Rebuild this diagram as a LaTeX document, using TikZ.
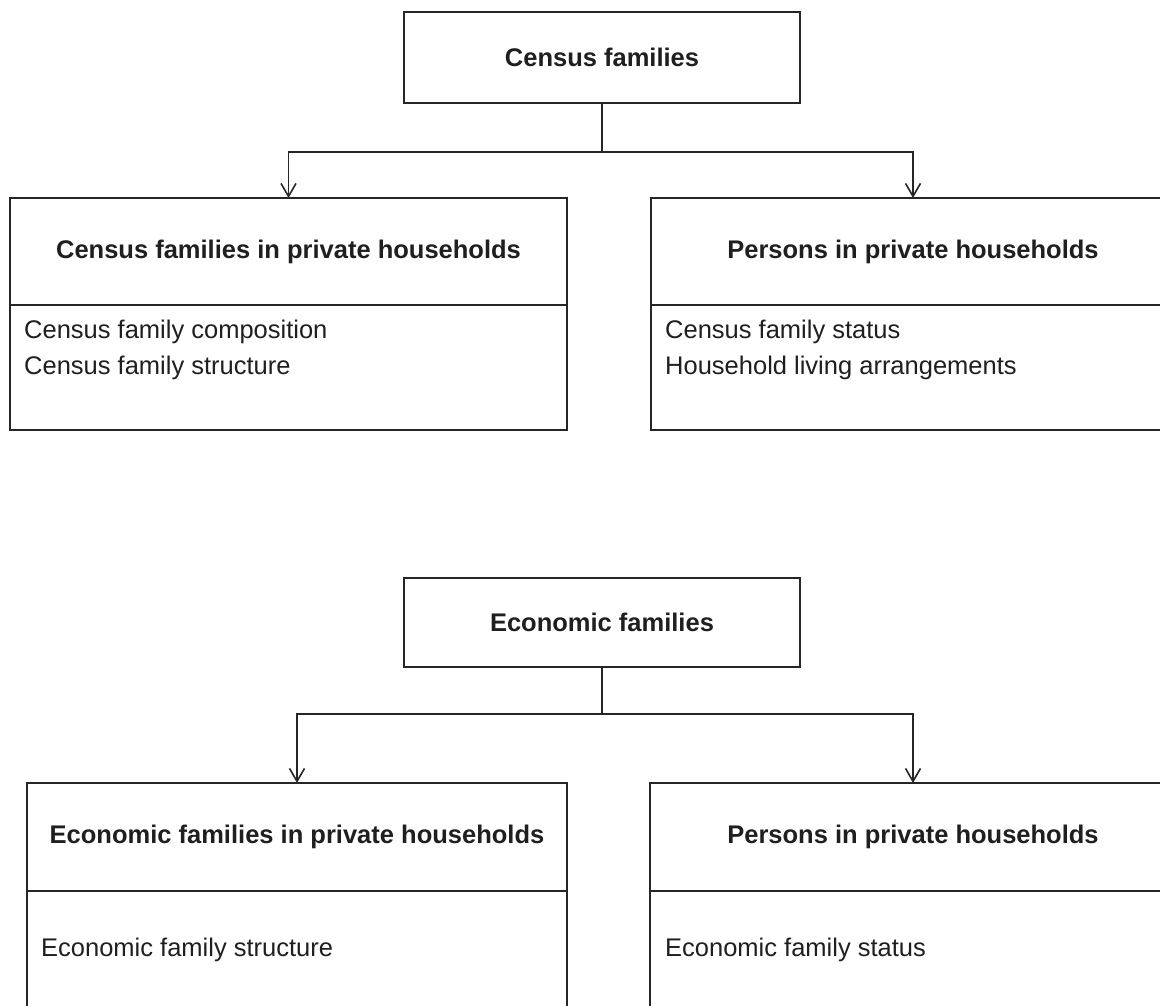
\documentclass[tikz,border=0pt]{standalone}
\usepackage{fontspec}
\setmainfont{Liberation Sans}
\usetikzlibrary{arrows.meta}
\begin{document}
\begin{tikzpicture}[x=1pt,y=-1pt,
  every node/.style={font=\fontsize{25.5}{30}\selectfont, text=black!88},
  boxnode/.style={draw=black!85, line width=1.8pt, rectangle, inner sep=0pt, outer sep=0pt, anchor=north west},
  titletext/.style={font=\fontsize{25.5}{30}\selectfont\bfseries},
  itemtext/.style={anchor=west, inner sep=0pt},
  conn/.style={draw=black!85, line width=1.8pt},
  arrowconn/.style={conn, -{Straight Barb[length=13pt,width=15pt,line width=1.6pt]}}]
\useasboundingbox (0,0) rectangle (1160,1006);
\clip (0,0) rectangle (1160,1006);
\fill[white] (0,0) rectangle (1160,1006);

% ---------- Census families ----------
\node[boxnode, minimum width=396pt, minimum height=91pt, titletext] (cf) at (404,12) {Census families};
\coordinate (j1) at (cf.south |- 0,152);

\node[boxnode, minimum width=557pt, minimum height=107pt, titletext] (cfph) at (10,198) {Census families in private households};
\node[boxnode, minimum width=557pt, minimum height=125pt] (cfpb) at (10,305) {};
\node[itemtext] (t1) at (24,332) {Census family composition};
\node[itemtext] (t2) at (24,368) {Census family structure};

\node[boxnode, minimum width=524pt, minimum height=107pt, titletext] (pph1) at (651,198) {Persons in private households};
\node[boxnode, minimum width=524pt, minimum height=125pt] (ppb1) at (651,305) {};
\node[itemtext] (t3) at (665,332) {Census family status};
\node[itemtext] (t4) at (665,368) {Household living arrangements};

\draw[conn] (cf.south) -- (j1);
\draw[arrowconn] (j1) -| (cfph.north);
\draw[arrowconn] (j1) -| (pph1.north);

% ---------- Economic families ----------
\node[boxnode, minimum width=396pt, minimum height=89pt, titletext] (ef) at (404,578) {Economic families};
\coordinate (j2) at (ef.south |- 0,714);

\node[boxnode, minimum width=540pt, minimum height=108pt, titletext] (efph) at (27,783) {Economic families in private households};
\node[boxnode, minimum width=540pt, minimum height=220pt] (efpb) at (27,891) {};
\node[itemtext] (t5) at (41,950) {Economic family structure};

\node[boxnode, minimum width=526pt, minimum height=108pt, titletext] (pph2) at (650,783) {Persons in private households};
\node[boxnode, minimum width=526pt, minimum height=220pt] (ppb2) at (650,891) {};
\node[itemtext] (t6) at (665,950) {Economic family status};

\draw[conn] (ef.south) -- (j2);
\draw[arrowconn] (j2) -| (efph.north);
\draw[arrowconn] (j2) -| (pph2.north);
\end{tikzpicture}
\end{document}
